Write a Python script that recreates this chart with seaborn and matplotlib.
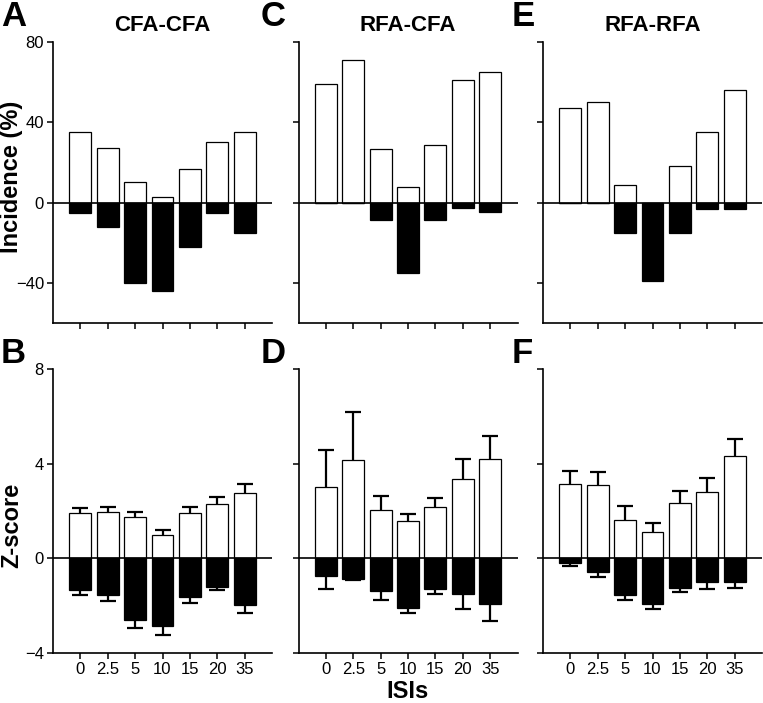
import numpy as np
import matplotlib
matplotlib.use("Agg")
import matplotlib.pyplot as plt
import seaborn as sns

# ISI categories (ms)
isi_labels = ["0", "2.5", "5", "10", "15", "20", "35"]
panel_titles = ["CFA-CFA", "RFA-CFA", "RFA-RFA"]

# Incidence (%) - facilitation (white) and suppression (black)
cfa_cfa_inc_pos = [35, 27, 10, 3, 16.5, 30, 35]
cfa_cfa_inc_neg = [-5, -12, -40, -44, -22, -5, -15]
rfa_cfa_inc_pos = [59, 71, 26.5, 8, 28.5, 61, 65]
rfa_cfa_inc_neg = [0, 0, -8.5, -35, -8.5, -2.5, -4.5]
rfa_rfa_inc_pos = [47, 50, 9, 0, 18, 35, 56]
rfa_rfa_inc_neg = [0, 0, -15, -39, -15, -3.3, -3.3]

# Z-score means and SEM
cfa_cfa_z_pos = [1.92, 1.95, 1.74, 0.99, 1.92, 2.30, 2.77]
cfa_cfa_z_pos_sem = [0.19, 0.23, 0.21, 0.21, 0.24, 0.31, 0.35]
cfa_cfa_z_neg = [-1.32, -1.53, -2.61, -2.88, -1.64, -1.21, -1.96]
cfa_cfa_z_neg_sem = [0.25, 0.28, 0.32, 0.35, 0.24, 0.14, 0.34]

rfa_cfa_z_pos = [3.01, 4.16, 2.05, 1.58, 2.18, 3.35, 4.21]
rfa_cfa_z_pos_sem = [1.56, 2.01, 0.57, 0.29, 0.39, 0.85, 0.96]
rfa_cfa_z_neg = [-0.73, -0.88, -1.40, -2.11, -1.29, -1.52, -1.91]
rfa_cfa_z_neg_sem = [0.58, 0.03, 0.34, 0.21, 0.23, 0.60, 0.73]

rfa_rfa_z_pos = [3.16, 3.08, 1.64, 1.13, 2.32, 2.80, 4.32]
rfa_rfa_z_pos_sem = [0.52, 0.58, 0.58, 0.35, 0.52, 0.59, 0.74]
rfa_rfa_z_neg = [-0.21, -0.59, -1.56, -1.95, -1.24, -1.00, -1.02]
rfa_rfa_z_neg_sem = [0.11, 0.21, 0.18, 0.17, 0.18, 0.31, 0.23]

inc_pos = [cfa_cfa_inc_pos, rfa_cfa_inc_pos, rfa_rfa_inc_pos]
inc_neg = [cfa_cfa_inc_neg, rfa_cfa_inc_neg, rfa_rfa_inc_neg]
z_pos = [cfa_cfa_z_pos, rfa_cfa_z_pos, rfa_rfa_z_pos]
z_pos_sem = [cfa_cfa_z_pos_sem, rfa_cfa_z_pos_sem, rfa_rfa_z_pos_sem]
z_neg = [cfa_cfa_z_neg, rfa_cfa_z_neg, rfa_rfa_z_neg]
z_neg_sem = [cfa_cfa_z_neg_sem, rfa_cfa_z_neg_sem, rfa_rfa_z_neg_sem]

sns.set_style("ticks")
plt.rcParams["font.family"] = ["Liberation Sans", "DejaVu Sans"]
plt.rcParams["text.color"] = "black"
plt.rcParams["axes.labelcolor"] = "black"

W, H = 763, 703
fig = plt.figure(figsize=(W / 100, H / 100), dpi=100)

col_left = [53, 298.5, 543]
col_w = 219
row_top = [41.7, 369]
row_h = [281.6, 284]


def style_axes(ax):
    sns.despine(ax=ax)
    for s in ["left", "bottom"]:
        ax.spines[s].set_linewidth(1.2)
        ax.spines[s].set_color("black")
    ax.tick_params(axis="both", direction="out", length=4, width=1.1,
                   color="black", labelsize=12, pad=2.5, labelcolor="black")
    ax.set_xlim(-1, 7)
    ax.axhline(0, color="black", lw=1.2, zorder=5)


def draw_bars(ax, pos, neg):
    sns.barplot(x=isi_labels, y=pos, color="white", edgecolor="black",
                linewidth=0.9, width=0.8, saturation=1, errorbar=None, ax=ax)
    sns.barplot(x=isi_labels, y=neg, color="black", edgecolor="black",
                linewidth=0.9, width=0.8, saturation=1, errorbar=None, ax=ax)


def draw_err(ax, means, sem, up=True):
    n = len(means)
    zeros = np.zeros(n)
    yerr = [zeros, sem] if up else [sem, zeros]
    _, caps, _ = ax.errorbar(np.arange(n), means, yerr=yerr, fmt="none",
                             ecolor="black", elinewidth=1.6, capsize=6,
                             capthick=1.6, zorder=4)
    caps[0 if up else 1].set_visible(False)


letters = [["A", "C", "E"], ["B", "D", "F"]]
letter_x = [1, 261, 512]
letter_y = [0, 337]

for c in range(3):
    # top row: incidence
    ax = fig.add_axes([col_left[c] / W, 1 - (row_top[0] + row_h[0]) / H,
                       col_w / W, row_h[0] / H])
    draw_bars(ax, inc_pos[c], inc_neg[c])
    style_axes(ax)
    ax.set_ylim(-60, 80)
    ax.set_yticks([80, 40, 0, -40])
    ax.set_xticks(range(7))
    ax.set_xticklabels([])
    ax.set_xlabel("")
    ax.set_title(panel_titles[c], fontsize=16, fontweight="bold", pad=8,
                 color="black")
    if c == 0:
        ax.set_ylabel("Incidence (%)", fontsize=17, fontweight="bold")
        ax.yaxis.set_label_coords(-0.135, 0.52)
    else:
        ax.set_yticklabels([])
        ax.set_ylabel("")

    # bottom row: z-score
    ax = fig.add_axes([col_left[c] / W, 1 - (row_top[1] + row_h[1]) / H,
                       col_w / W, row_h[1] / H])
    draw_bars(ax, z_pos[c], z_neg[c])
    draw_err(ax, z_pos[c], z_pos_sem[c], up=True)
    draw_err(ax, z_neg[c], z_neg_sem[c], up=False)
    style_axes(ax)
    ax.set_ylim(-4, 8)
    ax.set_yticks([8, 4, 0, -4])
    ax.set_xticks(range(7))
    ax.set_xticklabels(isi_labels)
    ax.set_xlabel("")
    if c == 0:
        ax.set_ylabel("Z-score", fontsize=17, fontweight="bold")
        ax.yaxis.set_label_coords(-0.135, 0.45)
    else:
        ax.set_yticklabels([])
        ax.set_ylabel("")
    if c == 1:
        ax.set_xlabel("ISIs", fontsize=17, fontweight="bold", labelpad=2)

    for r in range(2):
        fig.text(letter_x[c] / W, 1 - letter_y[r] / H, letters[r][c],
                 fontsize=25, fontweight="bold", ha="left", va="top",
                 color="black")

fig.savefig("out.png", dpi=100)
